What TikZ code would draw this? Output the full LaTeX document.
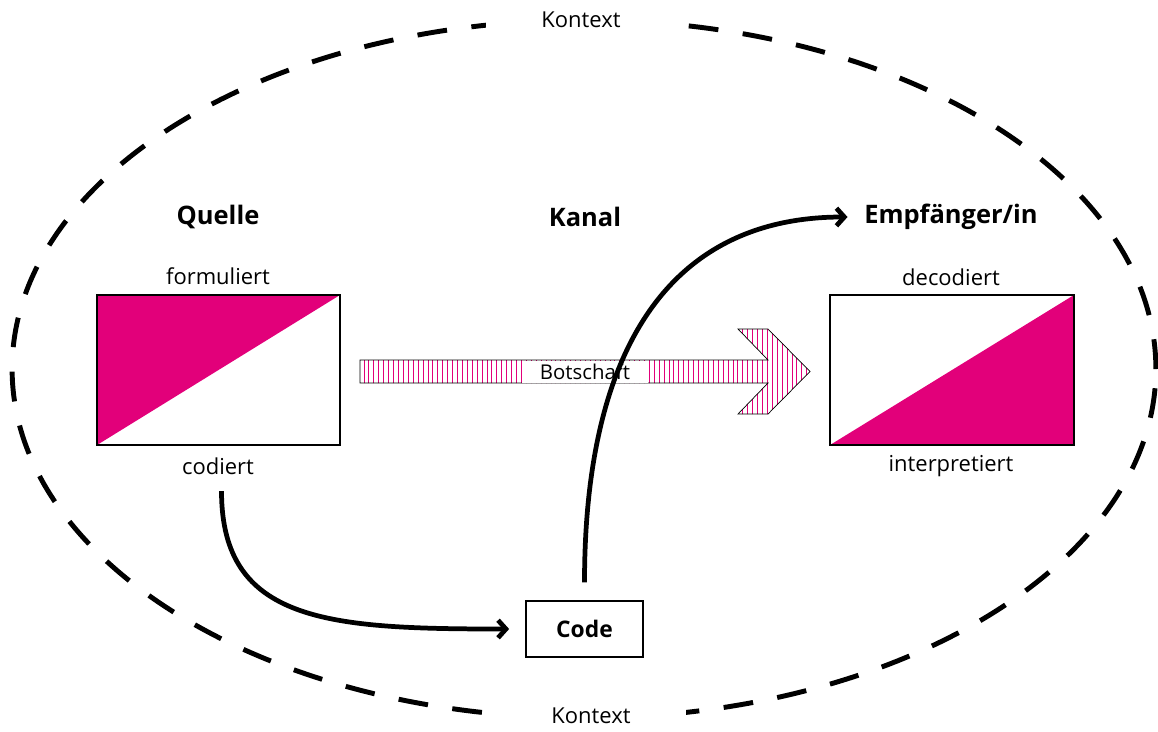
\documentclass[tikz,border=0pt]{standalone}
\usepackage{fontspec}
\setmainfont{Open Sans}
\usetikzlibrary{arrows.meta,patterns.meta}

\definecolor{botmag}{RGB}{226,0,122}
\tikzset{
  lbl/.style={font=\fontsize{12.5}{15}\selectfont},
  head/.style={font=\bfseries\fontsize{14.5}{17}\selectfont},
  partbox/.style={draw=black,line width=1.2pt,minimum width=4.86cm,minimum height=3cm},
  flow/.style={line width=2.7pt,-{Straight Barb[length=4.5pt,width=10pt]}},
  kontext/.style={line width=2.8pt,dash pattern=on 17pt off 14pt},
}

\begin{document}
\begin{tikzpicture}[x=0.02cm,y=-0.02cm]
        \useasboundingbox (0,0) rectangle (1158,731);

        % Draw the context ellipse
        \draw[kontext] (584,369) ellipse [x radius=11.44cm,y radius=6.98cm];
        \node[lbl,fill=white,inner xsep=1.1cm] (kontexttop) at (581,20) {Kontext};
        \node[lbl,fill=white,inner xsep=1.1cm] (kontextbot) at (591,716) {Kontext};

        % Headings
        \node[head] (quelle) at (218,217) {Quelle};
        \node[head] (kanal) at (585,217) {Kanal};
        \node[head] (empf) at (951,217) {Empfänger/in};

        % Source and receiver boxes
        \node[partbox,path picture={\fill[botmag] (path picture bounding box.north west) -- (path picture bounding box.north east) -- (path picture bounding box.south west) -- cycle;}] (quellebox) at (218.5,370) {};
        \node[partbox,minimum width=4.88cm,path picture={\fill[botmag] (path picture bounding box.south west) -- (path picture bounding box.north east) -- (path picture bounding box.south east) -- cycle;}] (empfbox) at (952,370) {};
        \node[lbl] (formuliert) at (218,276) {formuliert};
        \node[lbl] (codiert) at (218,466) {codiert};
        \node[lbl] (decodiert) at (951,277) {decodiert};
        \node[lbl] (interpretiert) at (951,466) {interpretiert};

        % Message arrow
        \draw[line width=0.4pt,pattern={Lines[angle=90,distance=2.8pt,line width=0.55pt]},pattern color=botmag]
          (360,360) -- (768,360) -- (738,329) -- (768,329) -- (810,371.5) -- (768,414) -- (738,414) -- (768,383) -- (360,383) -- cycle;
        \node[font=\fontsize{11.6}{13}\selectfont,fill=white,inner sep=0pt,minimum width=2.52cm,minimum height=0.44cm] (botschaft) at (585,371.5) {Botschaft};

        % Code box
        \node[draw=black,line width=1.2pt,minimum width=2.34cm,minimum height=1.12cm,font=\bfseries\fontsize{13}{15}\selectfont] (code) at (584.5,629) {Code};

        % Connectors
        \draw[flow,shorten <=6pt,shorten >=9pt] ([xshift=2pt]codiert.south) .. controls +(0,142) and +(-196,0) .. (code.west);
        \draw[flow,shorten <=10pt,shorten >=6pt] (code.north) .. controls +(0,-256) and +(-185,0) .. (empf.west);
\end{tikzpicture}
\end{document}
